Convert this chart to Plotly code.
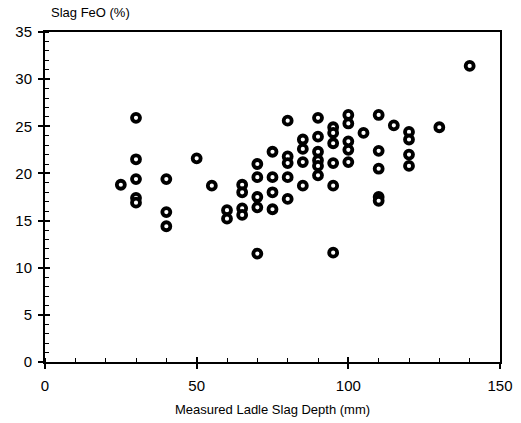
import plotly.graph_objects as go

# Data (x = measured ladle slag depth mm, y = slag FeO %)
depth_mm = [
    25,
    30, 30, 30, 30, 30,
    40, 40, 40,
    50,
    55,
    60, 60,
    65, 65, 65, 65,
    70, 70, 70, 70, 70,
    75, 75, 75, 75,
    80, 80, 80, 80, 80,
    85, 85, 85, 85,
    90, 90, 90, 90, 90, 90,
    95, 95, 95, 95, 95, 95,
    100, 100, 100, 100, 100,
    105,
    110, 110, 110, 110, 110,
    115,
    120, 120, 120, 120,
    130,
    140,
]
feo_pct = [
    18.8,
    25.9, 21.5, 19.4, 17.4, 16.9,
    19.4, 15.9, 14.4,
    21.6,
    18.7,
    16.1, 15.2,
    18.8, 18.0, 16.3, 15.6,
    21.0, 19.6, 17.5, 16.4, 11.5,
    22.3, 19.6, 18.0, 16.2,
    25.6, 21.8, 21.1, 19.6, 17.3,
    23.6, 22.6, 21.2, 18.7,
    25.9, 23.9, 22.3, 21.4, 20.8, 19.8,
    24.9, 24.3, 23.2, 21.1, 18.7, 11.6,
    26.2, 25.3, 23.4, 22.5, 21.2,
    24.3,
    26.2, 22.4, 20.5, 17.5, 17.1,
    25.1,
    24.4, 23.6, 22.0, 20.8,
    24.9,
    31.4,
]

x_range = [0, 150]
y_range = [0, 35]
x_major, x_minor = 50, 10
y_major, y_minor = 5, 1

FONT = "Liberation Sans, Arial, sans-serif"

fig = go.Figure()
# invisible copy on overlay axes: gives the inside half of crossing major ticks
fig.add_trace(go.Scatter(
    x=depth_mm, y=feo_pct, mode="markers", xaxis="x2", yaxis="y2",
    marker=dict(opacity=0), showlegend=False, hoverinfo="skip",
))
fig.add_trace(go.Scatter(
    x=depth_mm, y=feo_pct, mode="markers",
    marker=dict(symbol="circle", size=8, color="white",
                line=dict(color="black", width=3.8)),
    showlegend=False, hoverinfo="x+y",
))

common = dict(showgrid=False, zeroline=False, color="black")

fig.update_layout(
    width=521, height=423,
    margin=dict(l=45, r=21, t=32, b=61, autoexpand=False),
    paper_bgcolor="white", plot_bgcolor="white",
    font=dict(family=FONT, size=14, color="black"),
    xaxis=dict(range=x_range, tick0=0, dtick=x_major, ticks="outside",
               ticklen=5, tickwidth=1.5, showline=True, mirror=True,
               linecolor="black", linewidth=2,
               tickfont=dict(size=15), ticklabelstandoff=4,
               minor=dict(tick0=0, dtick=x_minor, ticks="inside", ticklen=4,
                          tickwidth=1, tickcolor="black"),
               **common),
    yaxis=dict(range=y_range, tick0=0, dtick=y_major, ticks="outside",
               ticklen=5, tickwidth=1.5, showline=True, mirror=True,
               linecolor="black", linewidth=2,
               tickfont=dict(size=15), ticklabelstandoff=3,
               minor=dict(tick0=0, dtick=y_minor, ticks="inside", ticklen=4,
                          tickwidth=1, tickcolor="black"),
               **common),
    xaxis2=dict(range=x_range, tick0=0, dtick=x_major, ticks="inside",
                ticklen=5, tickwidth=1.5, showticklabels=False,
                overlaying="x", anchor="y", side="bottom", showline=False,
                tickcolor="black", **common),
    yaxis2=dict(range=y_range, tick0=0, dtick=y_major, ticks="inside",
                ticklen=5, tickwidth=1.5, showticklabels=False,
                overlaying="y", anchor="x", side="left", showline=False,
                tickcolor="black", **common),
    annotations=[
        dict(text="Slag FeO (%)", xref="paper", yref="paper",
             x=0.0, y=1.0, xanchor="left", yanchor="bottom", yshift=10,
             xshift=4, showarrow=False, font=dict(size=13, family=FONT)),
        dict(text="Measured Ladle Slag Depth (mm)", xref="paper",
             yref="paper", x=0.5, y=0, xanchor="center", yanchor="top",
             yshift=-38, showarrow=False, font=dict(size=13, family=FONT)),
    ],
)

fig.write_html("out.html", config={"displayModeBar": False},
               post_script="document.body.style.margin='0';document.body.style.overflow='hidden';")
